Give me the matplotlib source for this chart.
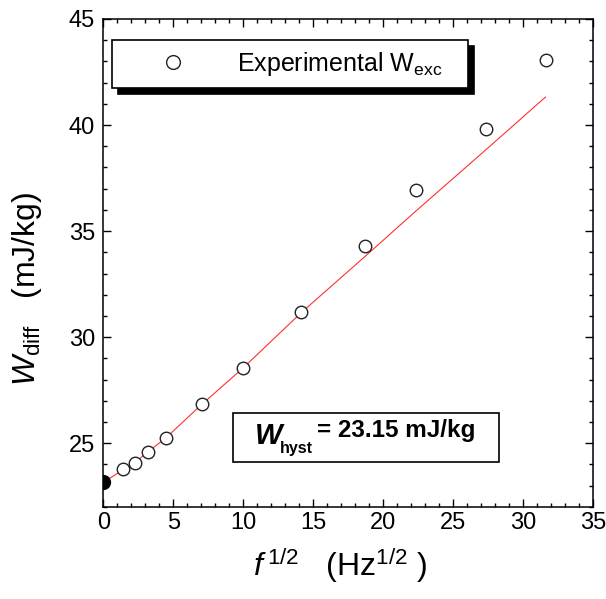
import matplotlib
matplotlib.use('Agg')
import matplotlib.pyplot as plt
from matplotlib.patches import Rectangle
from matplotlib.ticker import MultipleLocator

plt.rcParams['font.family'] = 'Liberation Sans'
plt.rcParams['mathtext.fontset'] = 'custom'
plt.rcParams['mathtext.rm'] = 'Liberation Sans'
plt.rcParams['mathtext.it'] = 'Liberation Sans:italic'
plt.rcParams['mathtext.bf'] = 'Liberation Sans:bold'
plt.rcParams['mathtext.bfit'] = 'Liberation Sans:bold:italic'

# sqrt of frequency (Hz^1/2) and measured W_diff (mJ/kg)
sqrt_f = [1.414, 2.236, 3.162, 4.472, 7.071, 10.0, 14.142, 18.708, 22.361, 27.386, 31.623]
w_diff = [23.79, 24.06, 24.60, 25.26, 26.87, 28.55, 31.19, 34.31, 36.92, 39.83, 43.05]

# red fit curve
fit_x = [0.0, 1.414, 2.236, 3.162, 4.472, 7.071, 10.0, 14.142, 18.708, 22.361, 27.386, 31.623]
fit_y = [23.15, 23.75, 24.08, 24.58, 25.25, 26.85, 28.55, 31.15, 33.80, 35.95, 38.85, 41.32]

w_hyst = 23.15

fig = plt.figure(figsize=(6.06, 5.99), dpi=100)
ax = fig.add_axes([0.1705, 0.1538, 0.8076, 0.8145])

ax.plot(fit_x, fit_y, color='#ff3030', lw=0.8, zorder=2)
ax.plot(sqrt_f, w_diff, 'o', ms=9, mfc='white', mec='#222222', mew=1.0, zorder=3,
        label='Experimental W$_{\\rm exc}$   ')
ax.plot([0], [w_hyst], 'o', ms=10, color='black', zorder=4)

ax.set_xlim(0, 35)
ax.set_ylim(22, 45)
ax.xaxis.set_major_locator(MultipleLocator(5))
ax.xaxis.set_minor_locator(MultipleLocator(1))
ax.yaxis.set_major_locator(MultipleLocator(5))
ax.yaxis.set_minor_locator(MultipleLocator(1))
ax.tick_params(which='both', direction='in', top=True, right=True, width=1)
ax.tick_params(which='major', length=6, labelsize=17)
ax.tick_params(axis='x', which='major', pad=4)
ax.tick_params(axis='y', which='major', pad=6)
ax.tick_params(which='minor', length=3)
for sp in ax.spines.values():
    sp.set_linewidth(1.1)

ax.set_xlabel(r'$f^{\,1/2}$   (Hz$^{1/2}$ )', fontsize=23)
ax.set_ylabel(r'$W_{\rm diff}$   (mJ/kg)', fontsize=23)
ax.xaxis.set_label_coords(0.484, -0.08)
ax.yaxis.set_label_coords(-0.122, 0.447)

leg = ax.legend(loc='upper left', bbox_to_anchor=(0.0178, 0.957), borderaxespad=0,
                fancybox=False, edgecolor='black', framealpha=1, fontsize=18,
                borderpad=0.4, handlelength=4.1, handletextpad=0.5, markerscale=1.1,
                shadow={'color': 'black', 'alpha': 1, 'ox': 4.3, 'oy': -4.3})
leg.get_frame().set_linewidth(1.2)

# W_hyst annotation box
ax.add_patch(Rectangle((9.28, 24.12), 19.02, 2.31, fc='white', ec='black', lw=1.2, zorder=5))
ax.text(10.78, 24.97, r'$\mathbfit{W}$', fontsize=21, va='baseline', zorder=6)
ax.text(12.65, 24.54, 'hyst', fontsize=11.5, fontweight='bold', va='baseline', zorder=6)
ax.text(15.29, 25.30, '= 23.15 mJ/kg', fontsize=17.5, fontweight='bold', va='baseline', zorder=6)

fig.savefig('out.png', dpi=100)
